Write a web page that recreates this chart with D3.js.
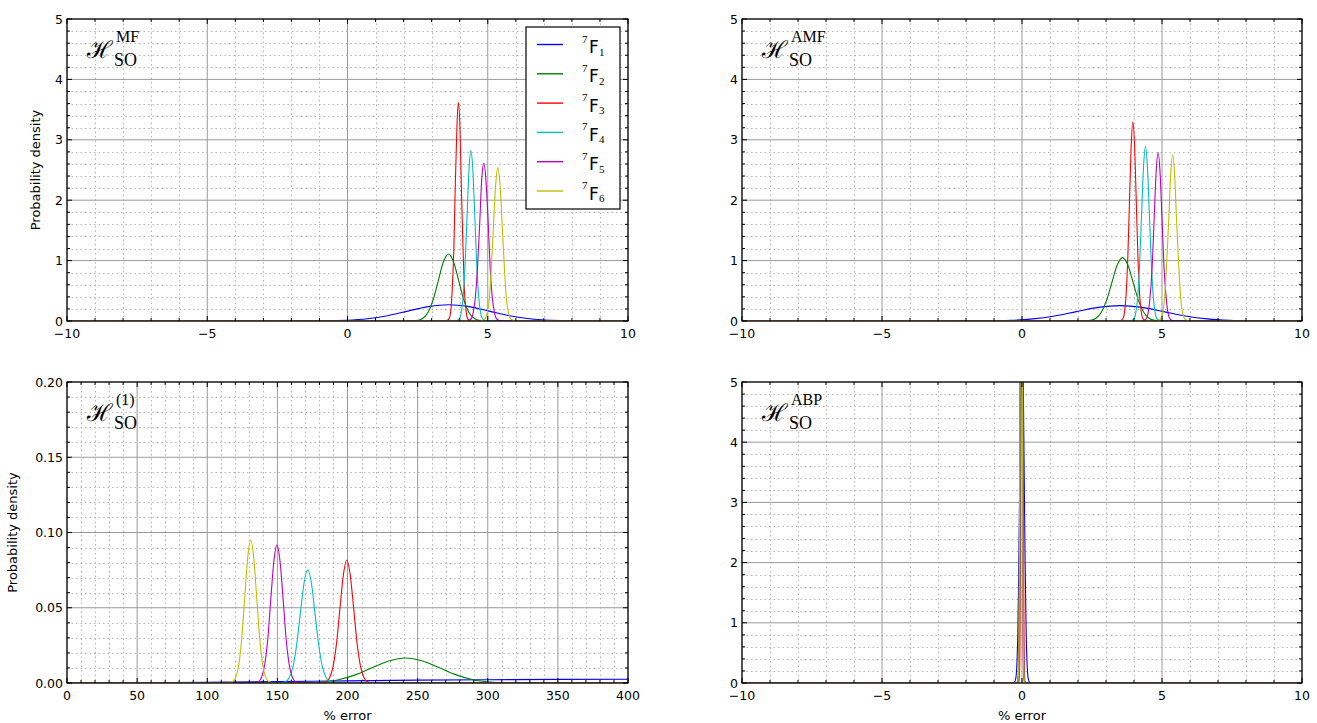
<!DOCTYPE html>
<html><head><meta charset="utf-8">
<script src="https://cdn.jsdelivr.net/npm/d3@7"></script>
<style>
body{margin:0;background:#fff}
svg text{font-family:"DejaVu Sans",sans-serif;fill:#000}
</style>
</head><body>
<svg id="chart" width="1317" height="723"></svg>
<script>
// ---------- data ----------
const seriesIds = ["F1","F2","F3","F4","F5","F6"];
const seriesSubs = ["1","2","3","4","5","6"];
const seriesColors = ["#0000ff","#008000","#ff0000","#00bfbf","#bf00bf","#bfbf00"];

const xTicksErr = [-10,-5,0,5,10];
const xTicksPct = [0,50,100,150,200,250,300,350,400];
const yTicksDen = [0,1,2,3,4,5];
const yTicksSmall = [0.00,0.05,0.10,0.15,0.20];

// H_SO^MF
const mfX = [
 [-10,-2.20,-0.75,-0.03,0.70,1.43,2.15,2.88,3.60,4.33,5.05,5.78,6.50,7.23,7.95,9.40,10],
 [-10,2.16,2.52,2.70,2.88,3.06,3.24,3.42,3.60,3.78,3.96,4.14,4.32,4.50,4.68,5.04,10],
 [-10,3.51,3.62,3.68,3.73,3.79,3.84,3.90,3.95,4.01,4.06,4.12,4.17,4.23,4.28,4.39,10],
 [-10,3.84,3.98,4.05,4.12,4.19,4.26,4.33,4.40,4.47,4.54,4.61,4.68,4.75,4.82,4.96,10],
 [-10,4.24,4.40,4.47,4.55,4.63,4.71,4.78,4.86,4.94,5.02,5.09,5.17,5.25,5.33,5.48,10],
 [-10,4.73,4.89,4.97,5.05,5.12,5.20,5.28,5.36,5.44,5.52,5.60,5.67,5.75,5.83,5.99,10]
];
const mfY = [
 [0,0,0.003,0.012,0.037,0.088,0.164,0.238,0.270,0.238,0.164,0.088,0.037,0.012,0.003,0,0],
 [0,0,0.012,0.049,0.150,0.360,0.673,0.980,1.110,0.980,0.673,0.360,0.150,0.049,0.012,0,0],
 [0,0,0.040,0.159,0.490,1.175,2.196,3.195,3.620,3.195,2.196,1.175,0.490,0.159,0.040,0,0],
 [0,0,0.031,0.124,0.382,0.916,1.710,2.489,2.820,2.489,1.710,0.916,0.382,0.124,0.031,0,0],
 [0,0,0.029,0.115,0.353,0.847,1.583,2.303,2.610,2.303,1.583,0.847,0.353,0.115,0.029,0,0],
 [0,0,0.028,0.112,0.344,0.825,1.541,2.242,2.540,2.242,1.541,0.825,0.344,0.112,0.028,0,0]
];

// H_SO^AMF
const amfX = [
 [-10,-2.74,-1.18,-0.40,0.38,1.16,1.94,2.72,3.50,4.28,5.06,5.84,6.62,7.40,8.18,9.74,10],
 [-10,2.07,2.45,2.64,2.83,3.02,3.21,3.40,3.59,3.78,3.97,4.16,4.35,4.54,4.73,5.11,10],
 [-10,3.48,3.60,3.66,3.72,3.78,3.84,3.90,3.96,4.02,4.08,4.14,4.20,4.26,4.32,4.44,10],
 [-10,3.85,3.99,4.06,4.13,4.20,4.27,4.34,4.41,4.48,4.55,4.62,4.69,4.76,4.83,4.97,10],
 [-10,4.29,4.43,4.50,4.57,4.65,4.72,4.79,4.86,4.93,5.00,5.07,5.15,5.22,5.29,5.43,10],
 [-10,4.80,4.95,5.02,5.09,5.16,5.24,5.31,5.38,5.45,5.52,5.60,5.67,5.74,5.82,5.96,10]
];
const amfY = [
 [0,0,0.003,0.011,0.035,0.083,0.155,0.225,0.255,0.225,0.155,0.083,0.035,0.011,0.003,0,0],
 [0,0,0.012,0.046,0.142,0.341,0.637,0.927,1.050,0.927,0.637,0.341,0.142,0.046,0.012,0,0],
 [0,0,0.037,0.145,0.447,1.071,2.001,2.912,3.300,2.912,2.001,1.071,0.447,0.145,0.037,0,0],
 [0,0,0.032,0.127,0.391,0.938,1.753,2.550,2.890,2.550,1.753,0.938,0.391,0.127,0.032,0,0],
 [0,0,0.031,0.122,0.378,0.906,1.692,2.462,2.790,2.462,1.692,0.906,0.378,0.122,0.031,0,0],
 [0,0,0.031,0.121,0.372,0.893,1.668,2.427,2.750,2.427,1.668,0.893,0.372,0.121,0.031,0,0]
];

// H_SO^(1)
const firstX = [
 [0,50,100,150,200,250,300,350,400],
 [0,145.5,169.5,181.5,193.5,205.5,217.5,229.5,241.5,253.5,265.5,277.5,289.5,301.5,313.5,337.5,400],
 [0,180.0,184.9,187.3,189.7,192.2,194.6,197.1,199.5,201.9,204.4,206.8,209.3,211.7,214.1,219.0,400],
 [0,150.4,155.7,158.3,161.0,163.6,166.3,169.0,171.6,174.3,176.9,179.6,182.2,184.9,187.5,192.8,400],
 [0,132.3,136.6,138.8,141.0,143.2,145.3,147.5,149.7,151.9,154.1,156.2,158.4,160.6,162.8,167.1,400],
 [0,114.2,118.4,120.5,122.6,124.7,126.8,128.9,131.0,133.1,135.2,137.3,139.4,141.5,143.6,147.8,400]
];
const firstY = [
 [0,0.0001,0.0004,0.0009,0.0014,0.0019,0.0022,0.0024,0.0025],
 [0,0,0.0002,0.0007,0.0022,0.0054,0.0101,0.0146,0.0166,0.0146,0.0101,0.0054,0.0022,0.0007,0.0002,0,0],
 [0,0,0.0009,0.0036,0.0111,0.0265,0.0496,0.0721,0.0817,0.0721,0.0496,0.0265,0.0111,0.0036,0.0009,0,0],
 [0,0,0.0008,0.0033,0.0102,0.0244,0.0456,0.0663,0.0751,0.0663,0.0456,0.0244,0.0102,0.0033,0.0008,0,0],
 [0,0,0.0010,0.0040,0.0124,0.0297,0.0556,0.0808,0.0916,0.0808,0.0556,0.0297,0.0124,0.0040,0.0010,0,0],
 [0,0,0.0011,0.0042,0.0128,0.0308,0.0576,0.0838,0.0949,0.0838,0.0576,0.0308,0.0128,0.0042,0.0011,0,0]
];

// H_SO^ABP
const abpX = [
 [-10,-0.300,-0.225,-0.188,-0.150,-0.113,-0.075,-0.038,0,0.038,0.075,0.113,0.150,0.188,0.225,0.300,10],
 [-10,-0.170,-0.135,-0.118,-0.100,-0.083,-0.065,-0.048,-0.030,-0.013,0.005,0.023,0.040,0.058,0.075,0.110,10],
 [-10,-0.120,-0.090,-0.075,-0.060,-0.045,-0.030,-0.015,0,0.015,0.030,0.045,0.060,0.075,0.090,0.120,10],
 [-10,-0.132,-0.104,-0.090,-0.076,-0.062,-0.048,-0.034,-0.020,-0.006,0.008,0.022,0.036,0.050,0.064,0.092,10],
 [-10,-0.150,-0.120,-0.105,-0.090,-0.075,-0.060,-0.045,-0.030,-0.015,0,0.015,0.030,0.045,0.060,0.090,10],
 [-10,-0.158,-0.126,-0.110,-0.094,-0.078,-0.062,-0.046,-0.030,-0.014,0.002,0.018,0.034,0.050,0.066,0.098,10]
];
const abpY = [
 [0,0,0.07,0.26,0.81,1.95,3.64,5.30,6.00,5.30,3.64,1.95,0.81,0.26,0.07,0,0],
 [0,0,0.13,0.50,1.54,3.70,6.91,10.06,11.40,10.06,6.91,3.70,1.54,0.50,0.13,0,0],
 [0,0,0.15,0.58,1.80,4.32,8.07,11.74,13.30,11.74,8.07,4.32,1.80,0.58,0.15,0,0],
 [0,0,0.16,0.62,1.92,4.61,8.61,12.53,14.20,12.53,8.61,4.61,1.92,0.62,0.16,0,0],
 [0,0,0.15,0.58,1.80,4.32,8.07,11.74,13.30,11.74,8.07,4.32,1.80,0.58,0.15,0,0],
 [0,0,0.14,0.55,1.69,4.06,7.58,11.03,12.50,11.03,7.58,4.06,1.69,0.55,0.14,0,0]
];

// ---------- layout ----------
const panels = [
 {id:"mf", box:[67,628,19,321], xd:[-10,10], yd:[0,5], xt:xTicksErr, xm:1, yt:yTicksDen, ym:0.2,
  yf:d3.format("d"), X:mfX, Y:mfY, sup:"MF", ylab:40, xlab:false, legend:true},
 {id:"amf", box:[742,1302,19,321], xd:[-10,10], yd:[0,5], xt:xTicksErr, xm:1, yt:yTicksDen, ym:0.2,
  yf:d3.format("d"), X:amfX, Y:amfY, sup:"AMF", ylab:null, xlab:false, legend:false},
 {id:"first", box:[67,628,382,683], xd:[0,400], yd:[0,0.2], xt:xTicksPct, xm:10, yt:yTicksSmall, ym:0.01,
  yf:d3.format(".2f"), X:firstX, Y:firstY, sup:"(1)", ylab:17, xlab:true, legend:false},
 {id:"abp", box:[742,1302,382,683], xd:[-10,10], yd:[0,5], xt:xTicksErr, xm:1, yt:yTicksDen, ym:0.2,
  yf:d3.format("d"), X:abpX, Y:abpY, sup:"ABP", ylab:null, xlab:true, legend:false}
];

const svg = d3.select("#chart");
const defs = svg.append("defs");

function minors(domain, step, majors){
  const n = Math.round((domain[1]-domain[0])/step);
  const out = [];
  for(let i=0;i<=n;i++){
    const v = domain[0]+i*step;
    if(!majors.some(m=>Math.abs(m-v)<step*1e-3)) out.push(v);
  }
  return out;
}

panels.forEach(p=>{
  const [L,R,T,B] = p.box;
  const x = d3.scaleLinear().domain(p.xd).range([L,R]);
  const y = d3.scaleLinear().domain(p.yd).range([B,T]);
  const g = svg.append("g");
  const xMin = minors(p.xd,p.xm,p.xt), yMin = minors(p.yd,p.ym,p.yt);

  // minor grid (dotted)
  g.append("g").selectAll("line").data(xMin).join("line")
    .attr("x1",d=>Math.round(x(d))+0.5).attr("x2",d=>Math.round(x(d))+0.5).attr("y1",T).attr("y2",B)
    .attr("stroke","#b4b4b4").attr("stroke-width",1).attr("stroke-dasharray","1.5,3");
  g.append("g").selectAll("line").data(yMin).join("line")
    .attr("y1",d=>Math.round(y(d))+0.5).attr("y2",d=>Math.round(y(d))+0.5).attr("x1",L).attr("x2",R)
    .attr("stroke","#b4b4b4").attr("stroke-width",1).attr("stroke-dasharray","1.5,3");
  // major grid
  g.append("g").selectAll("line").data(p.xt).join("line")
    .attr("x1",d=>x(d)).attr("x2",d=>x(d)).attr("y1",T).attr("y2",B)
    .attr("stroke","#9a9a9a").attr("stroke-width",1);
  g.append("g").selectAll("line").data(p.yt).join("line")
    .attr("y1",d=>y(d)).attr("y2",d=>y(d)).attr("x1",L).attr("x2",R)
    .attr("stroke","#9a9a9a").attr("stroke-width",1);

  // curves
  defs.append("clipPath").attr("id","clip-"+p.id).append("rect")
    .attr("x",L).attr("y",T).attr("width",R-L).attr("height",B-T);
  const line = d3.line().x(d=>x(d[0])).y(d=>y(d[1])).curve(d3.curveMonotoneX);
  const cg = g.append("g").attr("clip-path","url(#clip-"+p.id+")");
  seriesIds.forEach((s,i)=>{
    const pts = p.X[i].map((v,j)=>[v,p.Y[i][j]]);
    cg.append("path").attr("d",line(pts)).attr("fill","none")
      .attr("stroke",seriesColors[i]).attr("stroke-width",1.1);
  });

  // frame
  g.append("rect").attr("x",L).attr("y",T).attr("width",R-L).attr("height",B-T)
    .attr("fill","none").attr("stroke","#000").attr("stroke-width",1.2);

  // ticks (inward, all sides)
  const tk = g.append("g").attr("stroke","#000").attr("stroke-width",1);
  p.xt.forEach(v=>{ const xx=x(v);
    tk.append("line").attr("x1",xx).attr("x2",xx).attr("y1",B).attr("y2",B-5);
    tk.append("line").attr("x1",xx).attr("x2",xx).attr("y1",T).attr("y2",T+5); });
  xMin.forEach(v=>{ const xx=x(v);
    tk.append("line").attr("x1",xx).attr("x2",xx).attr("y1",B).attr("y2",B-3);
    tk.append("line").attr("x1",xx).attr("x2",xx).attr("y1",T).attr("y2",T+3); });
  p.yt.forEach(v=>{ const yy=y(v);
    tk.append("line").attr("x1",L).attr("x2",L+5).attr("y1",yy).attr("y2",yy);
    tk.append("line").attr("x1",R).attr("x2",R-5).attr("y1",yy).attr("y2",yy); });
  yMin.forEach(v=>{ const yy=y(v);
    tk.append("line").attr("x1",L).attr("x2",L+3).attr("y1",yy).attr("y2",yy);
    tk.append("line").attr("x1",R).attr("x2",R-3).attr("y1",yy).attr("y2",yy); });

  // tick labels
  const xf = d3.format("d");
  g.append("g").selectAll("text").data(p.xt).join("text")
    .attr("x",d=>x(d)).attr("y",B+17).attr("text-anchor","middle")
    .attr("font-size",12.5).text(d=>xf(d));
  g.append("g").selectAll("text").data(p.yt).join("text")
    .attr("x",L-4).attr("y",d=>y(d)+4.5).attr("text-anchor","end")
    .attr("font-size",12.5).text(d=>p.yf(d));

  if(p.ylab!==null){
    g.append("text").attr("transform",`translate(${p.ylab},${(T+B)/2}) rotate(-90)`)
      .attr("text-anchor","middle").attr("font-size",13).text("Probability density");
  }
  if(p.xlab){
    g.append("text").attr("x",(L+R)/2).attr("y",B+37).attr("text-anchor","middle")
      .attr("font-size",13).text("% error");
  }

  // panel label: script H, superscript and subscript
  g.append("text").attr("x",L+20).attr("y",T+39)
    .style("font-family","'DejaVu Serif',serif").attr("font-size",24).text("\u210B");
  g.append("text").attr("x",L+49).attr("y",T+23)
    .style("font-family","'Liberation Serif',serif").attr("font-size",16).text(p.sup);
  g.append("text").attr("x",L+47).attr("y",T+47)
    .style("font-family","'Liberation Serif',serif").attr("font-size",18).text("SO");

  if(p.legend){
    const lx = L+459, ly = T+8, lw = 94, lh = 182;
    const lg = g.append("g");
    lg.append("rect").attr("x",lx).attr("y",ly).attr("width",lw).attr("height",lh)
      .attr("fill","#fff").attr("stroke","#000").attr("stroke-width",1.2);
    seriesIds.forEach((s,i)=>{
      const yy = ly + 17.5 + i*29.3;
      lg.append("line").attr("x1",lx+11).attr("x2",lx+37).attr("y1",yy).attr("y2",yy)
        .attr("stroke",seriesColors[i]).attr("stroke-width",1.4);
      lg.append("text").attr("x",lx+56).attr("y",yy-2)
        .style("font-family","'Liberation Serif',serif").attr("font-size",11).text("7");
      lg.append("text").attr("x",lx+63).attr("y",yy+8.5)
        .attr("font-size",17).text("F");
      lg.append("text").attr("x",lx+73).attr("y",yy+11)
        .style("font-family","'Liberation Serif',serif").attr("font-size",11).text(seriesSubs[i]);
    });
  }
});
</script>
</body></html>
